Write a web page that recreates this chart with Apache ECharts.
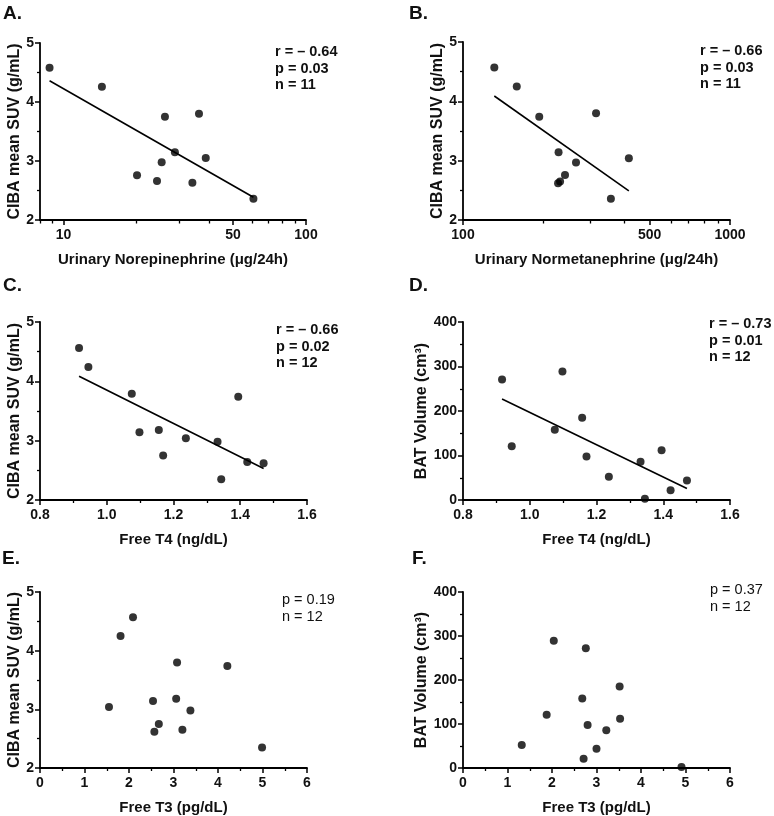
<!DOCTYPE html>
<html>
<head>
<meta charset="utf-8">
<script src="https://cdn.jsdelivr.net/npm/echarts@6/dist/echarts.min.js"></script>
<style>
html,body{margin:0;padding:0;background:#fff;}
#c{width:774px;height:816px;}
</style>
</head>
<body>
<div id="c"></div>
<script>
// ---- Data ----
const A_x = [8.76, 14.4, 26.2, 36.2, 28.8, 38.6, 25.4, 20.1, 24.3, 34.0, 60.7];
const A_y = [4.58, 4.26, 3.75, 3.80, 3.15, 3.05, 2.98, 2.76, 2.66, 2.63, 2.36];
const A_fit_x = [8.76, 60.7];
const A_fit_y = [4.36, 2.385];

const B_x = [131, 159, 193, 315, 228, 265, 241, 231, 227, 418, 358];
const B_y = [4.57, 4.25, 3.74, 3.80, 3.14, 2.97, 2.76, 2.65, 2.62, 3.04, 2.36];
const B_fit_x = [131, 418];
const B_fit_y = [4.09, 2.49];

const C_x = [0.917, 0.945, 1.075, 1.394, 1.098, 1.156, 1.237, 1.332, 1.169, 1.421, 1.47, 1.343];
const C_y = [4.56, 4.24, 3.79, 3.74, 3.14, 3.18, 3.04, 2.98, 2.75, 2.64, 2.62, 2.35];
const C_fit_x = [0.917, 1.47];
const C_fit_y = [4.086, 2.53];

const D_x = [0.917, 0.946, 1.098, 1.075, 1.157, 1.17, 1.237, 1.332, 1.345, 1.395, 1.422, 1.471];
const D_y = [271, 121, 289, 158, 185, 98, 52, 86, 3, 112, 22, 44];
const D_fit_x = [0.917, 1.471];
const D_fit_y = [227, 26];

const E_x = [2.09, 1.81, 3.08, 4.21, 1.55, 2.54, 3.06, 3.38, 2.67, 2.57, 3.20, 4.99];
const E_y = [4.57, 4.25, 3.80, 3.74, 3.04, 3.14, 3.18, 2.98, 2.75, 2.62, 2.65, 2.35];

const F_x = [2.04, 2.76, 3.52, 2.68, 1.88, 2.80, 3.53, 3.22, 1.32, 3.00, 2.71, 4.91];
const F_y = [289, 272, 185, 158, 121, 98, 112, 86, 52, 44, 21, 2];

const A_xMajor = [10, 50, 100];
const A_xMinor = [8, 9, 20, 30, 40, 60, 70, 80, 90];
const B_xMajor = [100, 500, 1000];
const B_xMinor = [200, 300, 400, 600, 700, 800, 900];

const panelLetters = ['A.', 'B.', 'C.', 'D.', 'E.', 'F.'];
const statsText = [
  'r = \u2013 0.64\np = 0.03\nn = 11',
  'r = \u2013 0.66\np = 0.03\nn = 11',
  'r = \u2013 0.66\np = 0.02\nn = 12',
  'r = \u2013 0.73\np = 0.01\nn = 12',
  'p = 0.19\nn = 12',
  'p = 0.37\nn = 12'
];
const xNames = [
  'Urinary Norepinephrine (\u03bcg/24h)',
  'Urinary Normetanephrine (\u03bcg/24h)',
  'Free T4 (ng/dL)',
  'Free T4 (ng/dL)',
  'Free T3 (pg/dL)',
  'Free T3 (pg/dL)'
];
const yNames = [
  'CIBA mean SUV (g/mL)',
  'CIBA mean SUV (g/mL)',
  'CIBA mean SUV (g/mL)',
  'BAT Volume (cm\u00b3)',
  'CIBA mean SUV (g/mL)',
  'BAT Volume (cm\u00b3)'
];

// ---- Layout ----
const FONT = '"Liberation Sans", Arial, sans-serif';
const grids = [
  {left: 40, top: 43, width: 266, height: 177},
  {left: 463, top: 42, width: 267, height: 178},
  {left: 40, top: 322, width: 267, height: 178},
  {left: 463, top: 322, width: 267, height: 178},
  {left: 40, top: 592, width: 267, height: 178},
  {left: 463, top: 592, width: 267, height: 178}
];
const letterPos = [[3, 4], [409, 4], [3, 276], [409, 276], [2, 549], [412, 549]];
const statsPos = [[275, 44], [700, 43], [276, 322], [709, 316], [282, 592], [710, 582]];
const statsBold = [true, true, true, true, false, false];

const axisLine = {show: true, onZero: false, lineStyle: {color: '#000', width: 1.8}};
const labelStyle = {color: '#111', fontFamily: FONT, fontWeight: 'bold', fontSize: 14};
const xNameStyle = {color: '#111', fontFamily: FONT, fontWeight: 'bold', fontSize: 15};
const yNameStyle = {color: '#111', fontFamily: FONT, fontWeight: 'bold', fontSize: 16};

const xAxes = [];
const yAxes = [];
const series = [];

function linearX(gi, min, max, interval, fmt) {
  xAxes.push({
    type: 'value', gridIndex: gi, min: min, max: max, interval: interval, position: 'bottom',
    name: xNames[gi], nameLocation: 'middle', nameGap: 32, nameTextStyle: xNameStyle,
    axisLine: axisLine,
    axisTick: {show: true, length: 5, lineStyle: {color: '#000', width: 1.5}},
    minorTick: {show: true, splitNumber: 2, length: 3, lineStyle: {color: '#000', width: 1.3}},
    splitLine: {show: false},
    axisLabel: Object.assign({margin: 8, formatter: fmt}, labelStyle)
  });
  return xAxes.length - 1;
}
function logX(gi, min, max, major, minor) {
  xAxes.push({
    type: 'log', logBase: 10, gridIndex: gi, min: min, max: max, position: 'bottom',
    name: xNames[gi], nameLocation: 'middle', nameGap: 32, nameTextStyle: xNameStyle,
    axisLine: axisLine,
    axisTick: {show: true, length: 5, customValues: major, lineStyle: {color: '#000', width: 1.5}},
    splitLine: {show: false},
    axisLabel: Object.assign({margin: 8, customValues: major, formatter: v => String(Math.round(v))}, labelStyle)
  });
  const idx = xAxes.length - 1;
  xAxes.push({
    type: 'log', logBase: 10, gridIndex: gi, min: min, max: max, position: 'bottom',
    axisLine: {show: false},
    axisTick: {show: true, length: 3.5, customValues: minor, lineStyle: {color: '#000', width: 1.3}},
    splitLine: {show: false},
    axisLabel: {show: false}
  });
  return idx;
}
function valY(gi, min, max, interval, gap) {
  yAxes.push({
    type: 'value', gridIndex: gi, min: min, max: max, interval: interval, position: 'left',
    name: yNames[gi], nameLocation: 'middle', nameGap: gap, nameTextStyle: yNameStyle,
    axisLine: axisLine,
    axisTick: {show: true, length: 5, lineStyle: {color: '#000', width: 1.5}},
    minorTick: {show: true, splitNumber: 2, length: 3, lineStyle: {color: '#000', width: 1.3}},
    splitLine: {show: false},
    axisLabel: Object.assign({margin: 6}, labelStyle)
  });
  return yAxes.length - 1;
}
function zip(xs, ys) { return xs.map((v, i) => [v, ys[i]]); }
function addScatter(xi, yi, xs, ys) {
  series.push({
    type: 'scatter', xAxisIndex: xi, yAxisIndex: yi, data: zip(xs, ys),
    symbol: 'circle', symbolSize: 8, itemStyle: {color: '#000'}, z: 5, silent: true
  });
}
function addFit(xi, yi, xs, ys) {
  series.push({
    type: 'line', xAxisIndex: xi, yAxisIndex: yi, data: zip(xs, ys),
    showSymbol: false, lineStyle: {color: '#000', width: 1.6}, z: 4, silent: true
  });
}

const f1 = v => v.toFixed(1);
const f0 = v => String(v);

// Panel A
let xi = logX(0, 8, 100, A_xMajor, A_xMinor);
let yi = valY(0, 2, 5, 1, 16);
addScatter(xi, yi, A_x, A_y); addFit(xi, yi, A_fit_x, A_fit_y);
// Panel B
xi = logX(1, 100, 1000, B_xMajor, B_xMinor);
yi = valY(1, 2, 5, 1, 16);
addScatter(xi, yi, B_x, B_y); addFit(xi, yi, B_fit_x, B_fit_y);
// Panel C
xi = linearX(2, 0.8, 1.6, 0.2, f1);
yi = valY(2, 2, 5, 1, 16);
addScatter(xi, yi, C_x, C_y); addFit(xi, yi, C_fit_x, C_fit_y);
// Panel D
xi = linearX(3, 0.8, 1.6, 0.2, f1);
yi = valY(3, 0, 400, 100, 31);
addScatter(xi, yi, D_x, D_y); addFit(xi, yi, D_fit_x, D_fit_y);
// Panel E
xi = linearX(4, 0, 6, 1, f0);
yi = valY(4, 2, 5, 1, 16);
addScatter(xi, yi, E_x, E_y);
// Panel F
xi = linearX(5, 0, 6, 1, f0);
yi = valY(5, 0, 400, 100, 31);
addScatter(xi, yi, F_x, F_y);

const graphics = [];
panelLetters.forEach((t, i) => {
  graphics.push({type: 'text', left: letterPos[i][0], top: letterPos[i][1],
    style: {text: t, fill: '#111', font: 'bold 19px ' + FONT}});
});
statsText.forEach((t, i) => {
  graphics.push({type: 'text', left: statsPos[i][0], top: statsPos[i][1],
    style: {text: t, fill: '#111', lineHeight: 16.5,
      font: (statsBold[i] ? 'bold ' : '') + '14.5px ' + FONT}});
});

const chart = echarts.init(document.getElementById('c'), null, {renderer: 'canvas'});
chart.setOption({
  animation: false,
  backgroundColor: '#fff',
  grid: grids.map(g => Object.assign({containLabel: false}, g)),
  xAxis: xAxes,
  yAxis: yAxes,
  series: series,
  graphic: graphics
});
</script>
</body>
</html>
